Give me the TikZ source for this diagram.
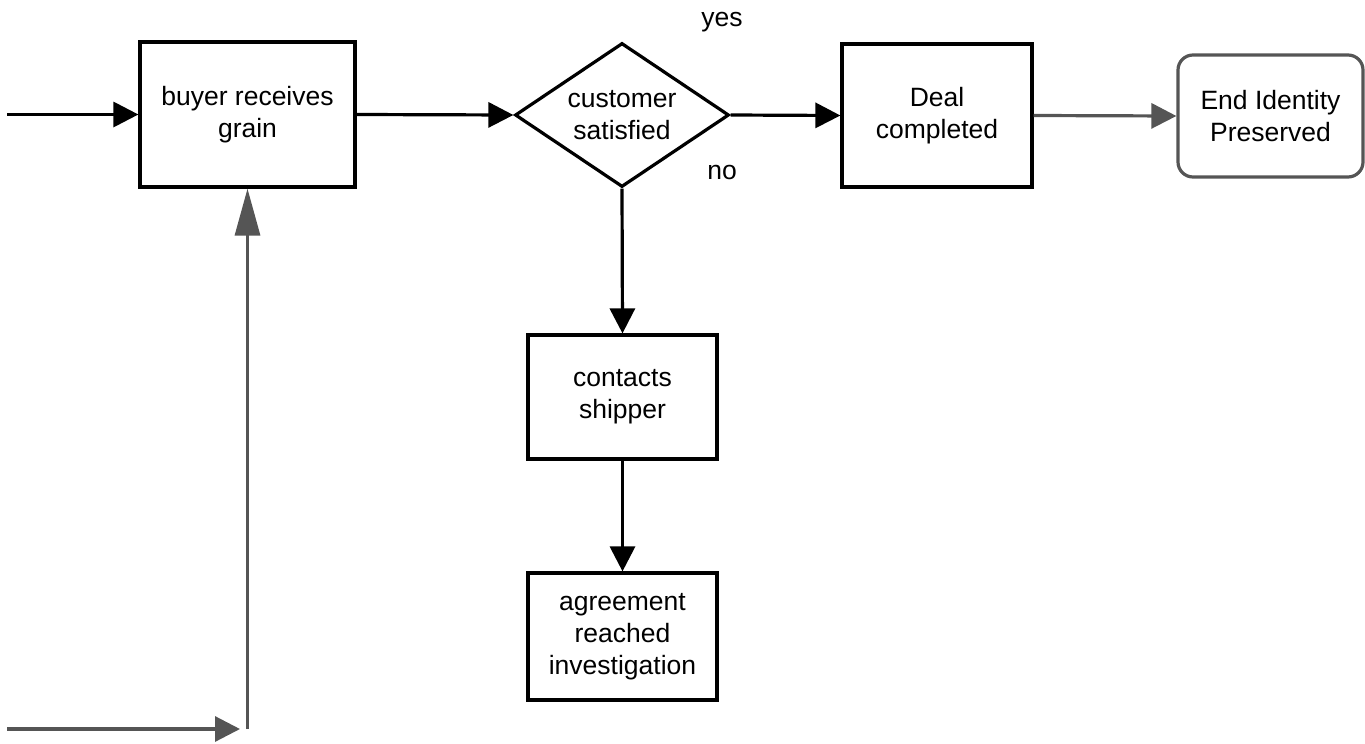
\documentclass[tikz,border=0pt]{standalone}
\usepackage{fontspec}
\setmainfont{Liberation Sans}
\usetikzlibrary{arrows.meta,shapes.geometric}
\definecolor{dgray}{HTML}{555555}
\newcommand{\dfont}{\fontsize{26.5}{32}\selectfont}
\begin{document}
\begin{tikzpicture}[x=1pt,y=-1pt,
  stepbox/.style={draw, line width=3.2pt, align=center, font=\dfont, inner sep=0pt},
  decision/.style={draw, diamond, line width=3.2pt, align=center, font=\dfont, inner sep=0pt, aspect=1.486, minimum width=214pt, minimum height=144pt},
  endbox/.style={draw=dgray, line width=3.2pt, rounded corners=15pt, align=center, font=\dfont, inner sep=0pt},
  lbl/.style={font=\dfont, inner sep=0pt},
  flow/.style={line width=3.2pt, -{Triangle[length=25pt,width=25pt]}},
  grayflow/.style={flow, draw=dgray, fill=dgray},
  longtip/.style={line width=3.2pt, draw=dgray, fill=dgray, -{Triangle[length=47pt,width=25pt]}}]
\useasboundingbox (0,0) rectangle (1365,744);
\node[stepbox, minimum width=215pt, minimum height=145pt] (buyer) at (247.5,114.5) {buyer receives\\grain};
\node[decision] (cust) at (622,115) {customer\\satisfied};
\node[stepbox, minimum width=190pt, minimum height=143pt] (deal) at (937,115.5) {Deal\\completed};
\node[endbox, minimum width=185pt, minimum height=122pt] (end) at (1270.5,116) {End Identity\\Preserved};
\node[stepbox, minimum width=189pt, minimum height=124pt] (contacts) at (622.5,397) {contacts\\shipper};
\node[stepbox, minimum width=189pt, minimum height=127pt] (agree) at (622.5,636.5) {agreement\\reached\\investigation};
\node[lbl] (yes) at (722,22) {yes};
\node[lbl] (no) at (722,172) {no};
\coordinate (in1) at (7,114.5);
\coordinate (in2) at (7,729);
\coordinate (corner) at (247.5,729);
\coordinate (cornertip) at (240,729);
\draw[flow] (in1) -- (buyer.west);
\draw[flow] (buyer.east) -- (cust.west);
\draw[flow] (cust.east) -- (deal.west);
\draw[grayflow] (deal.east) -- (end.west);
\draw[flow] (cust.south) -- (contacts.north);
\draw[flow] (contacts.south) -- (agree.north);
\draw[grayflow] (in2) -- (cornertip);
\draw[longtip] (corner) -- (buyer.south);
\end{tikzpicture}
\end{document}
